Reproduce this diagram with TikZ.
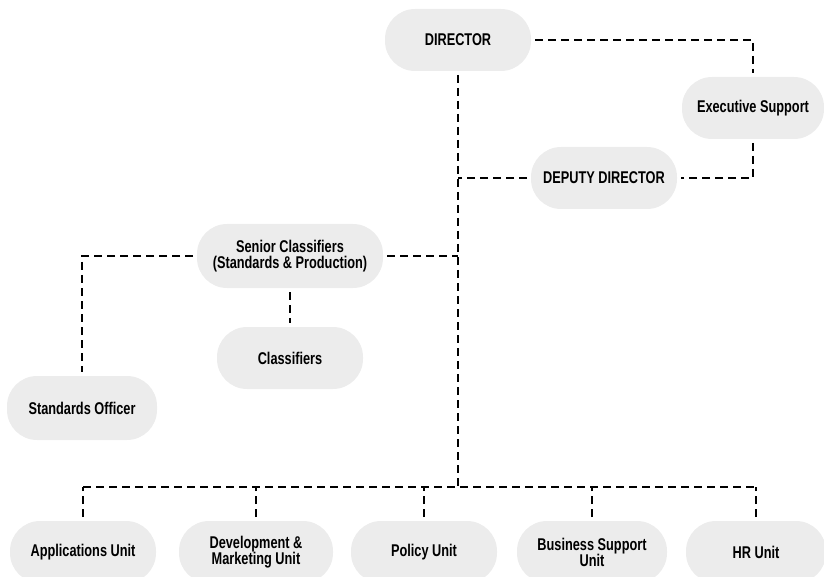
\documentclass[tikz,border=0pt]{standalone}
\usepackage{fontspec}
\usepackage{tikz}
\usetikzlibrary{positioning}
\newfontfamily\orgfont[FakeStretch=0.75]{Liberation Sans}
\definecolor{unitbg}{RGB}{236,236,236}

\begin{document}
\begin{tikzpicture}[
    x=1pt,y=-1pt,
    unit/.style={fill=unitbg,rounded corners=30pt,align=center,minimum width=146pt,minimum height=62pt,
      font=\orgfont\bfseries\fontsize{17}{16}\selectfont,outer sep=4pt},
    link/.style={line width=2pt,dash pattern=on 8pt off 5pt}
  ]
    \useasboundingbox (0,0) rectangle (824,577);

    \node[unit] (director) at (458,40) {DIRECTOR};
    \node[unit,minimum width=142pt] (exec) at (753,108) {Executive Support};
    \node[unit] (deputy) at (604,178) {DEPUTY DIRECTOR};
    \node[unit,minimum width=186pt,minimum height=64pt] (senior) at (290,256) {Senior Classifiers\\(Standards \& Production)};
    \node[unit] (classifiers) at (290,358) {Classifiers};
    \node[unit,minimum width=150pt,minimum height=64pt] (stdoff) at (82,408) {Standards Officer};

    % units along the bottom
    \node[unit] (apps) at (83,552) {Applications Unit};
    \node[unit,minimum width=154pt] (devmkt) at (256,552) {Development \&\\Marketing Unit};
    \node[unit] (policy) at (424,552) {Policy Unit};
    \node[unit,minimum width=150pt] (business) at (592,552) {Business Support\\Unit};
    \node[unit,minimum width=140pt] (hr) at (756,552) {HR Unit};
    \coordinate (bus) at (458,487);

    \draw[link] (director.east) -| (exec.north);
    \draw[link] (exec.south) |- (deputy.east);
    \draw[link] (director.south) -- (bus);
    \draw[link] (deputy.west) -- (deputy.west -| bus);
    \draw[link] (senior.east) -- (senior.east -| bus);
    \draw[link] (senior.west) -| (stdoff.north);
    \draw[link] (senior.south) -- (classifiers.north);
    \draw[link] (apps.north |- bus) -- (hr.north |- bus);
    \foreach \u in {apps,devmkt,policy,business,hr}
      \draw[link] (\u.north) -- (\u.north |- bus);
  \end{tikzpicture}
\end{document}
